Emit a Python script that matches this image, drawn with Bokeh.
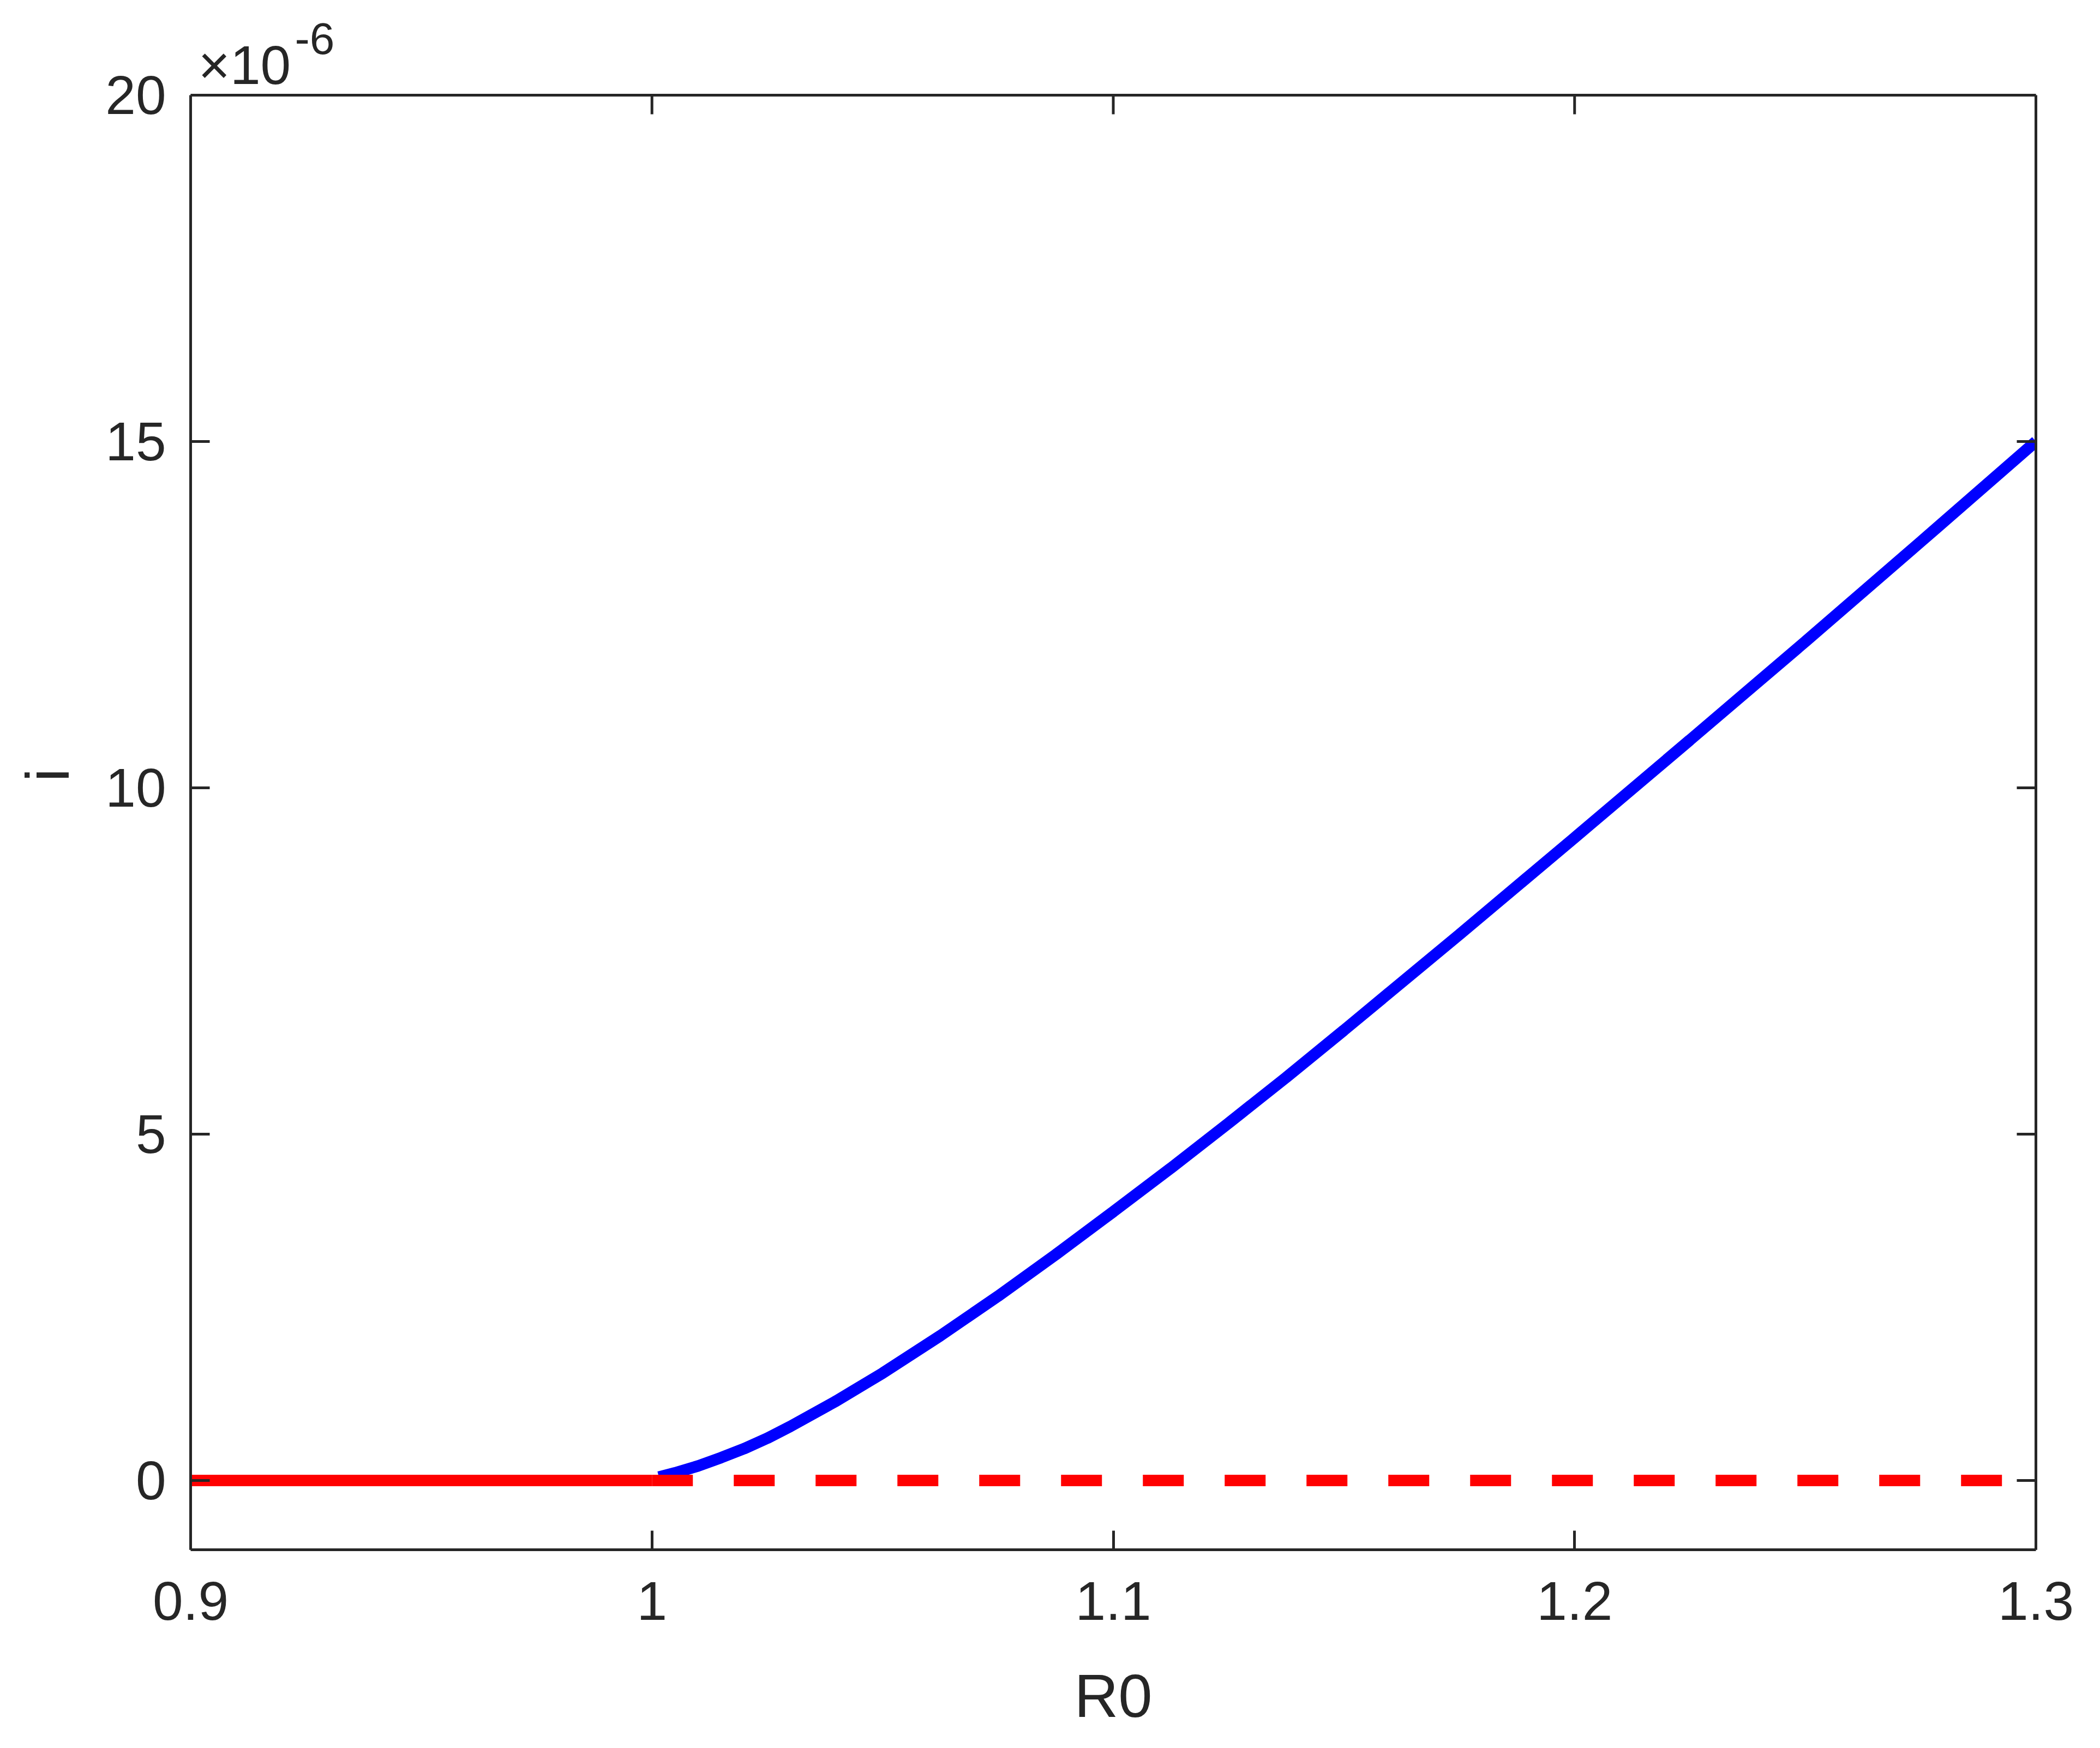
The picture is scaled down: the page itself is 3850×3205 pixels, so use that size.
from bokeh.plotting import figure
from bokeh.models import FixedTicker, CustomJSTickFormatter, LinearAxis, Label, Range1d, Span
from bokeh.embed import file_html
from bokeh.resources import INLINE

# ---- data (i values in units of 1e-6) ----
x_ticks = [0.9, 1.0, 1.1, 1.2, 1.3]
y_ticks = [0, 5, 10, 15, 20]

stable_R0 = [0.9, 1.0]
stable_i = [0, 0]
unstable_R0 = [1.0, 1.3]
unstable_i = [0, 0]

endemic_R0 = [1.0015, 1.005, 1.01, 1.015, 1.02, 1.025, 1.03, 1.04, 1.05,
              1.0625, 1.075, 1.0875, 1.1, 1.1125, 1.125, 1.1375, 1.15,
              1.175, 1.2, 1.225, 1.25, 1.275, 1.3]
endemic_i = [0.05, 0.11, 0.21, 0.33, 0.46, 0.61, 0.78, 1.15, 1.55,
             2.09, 2.66, 3.26, 3.88, 4.51, 5.16, 5.82, 6.50,
             7.88, 9.28, 10.69, 12.11, 13.55, 15.0]

AX = "#262626"
FONT = "Liberation Sans"
PX_PER_UNIT = 127.0          # vertical pixels per y unit
TOP_PAD_PX = 174             # space above the axes box (inside the frame)
Y_MIN, Y_MAX = -1, 20
y_top = Y_MAX + TOP_PAD_PX / PX_PER_UNIT

p = figure(frame_width=3383, frame_height=2841,
           x_range=Range1d(0.9, 1.3), y_range=Range1d(Y_MIN, y_top),
           output_backend="svg", toolbar_location=None,
           min_border_left=349, min_border_right=102,
           min_border_top=0, min_border_bottom=348,
           x_axis_label="R0", y_axis_label="i")
p.grid.visible = False
p.outline_line_color = None
p.background_fill_color = "white"
p.border_fill_color = "white"

fmt = CustomJSTickFormatter(code="return tick.toString();")
empty = CustomJSTickFormatter(code="return '';")


def style(ax, ticks, labels=True):
    ax.ticker = FixedTicker(ticks=ticks)
    ax.formatter = fmt if labels else empty
    ax.axis_line_color = AX
    ax.axis_line_width = 5
    ax.major_tick_line_color = AX
    ax.major_tick_line_width = 5
    ax.major_tick_in = 35
    ax.major_tick_out = 0
    ax.minor_tick_line_color = None
    ax.major_label_text_font = FONT
    ax.major_label_text_font_size = "100px"
    ax.major_label_text_color = AX
    ax.axis_label_text_font = FONT
    ax.axis_label_text_font_size = "112px"
    ax.axis_label_text_font_style = "normal"
    ax.axis_label_text_color = AX


style(p.xaxis[0], x_ticks)
style(p.yaxis[0], y_ticks)
p.yaxis[0].bounds = (Y_MIN, Y_MAX)
p.xaxis[0].major_label_standoff = 59
p.xaxis[0].axis_label_standoff = 74
p.yaxis[0].major_label_standoff = 45
p.yaxis[0].axis_label_standoff = 40

right = LinearAxis()
style(right, y_ticks, labels=False)
right.major_label_text_font_size = "0px"
right.bounds = (Y_MIN, Y_MAX)
p.add_layout(right, "right")

# top edge of the axes box with inward ticks
p.add_layout(Span(location=Y_MAX, dimension="width", line_color=AX, line_width=5))
tick_len = 35 / PX_PER_UNIT
p.segment(x0=x_ticks, y0=[Y_MAX] * len(x_ticks), x1=x_ticks,
          y1=[Y_MAX - tick_len] * len(x_ticks), line_color=AX, line_width=5)

p.line(endemic_R0, endemic_i, line_color="#0000FF", line_width=21)
p.line(stable_R0, stable_i, line_color="#FF0000", line_width=21)
p.line(unstable_R0, unstable_i, line_color="#FF0000", line_width=21,
       line_dash="75 75")

p.add_layout(Label(x=0.90166, y=20.44, text="\u00d710", text_font=FONT,
                   text_font_size="100px", text_color=AX,
                   text_align="left", text_baseline="alphabetic"))
p.add_layout(Label(x=0.92258, y=20.82, text="-6", text_font=FONT,
                   text_font_size="82px", text_color=AX,
                   text_align="left", text_baseline="alphabetic"))

open("out.html", "w").write(file_html(p, INLINE))
